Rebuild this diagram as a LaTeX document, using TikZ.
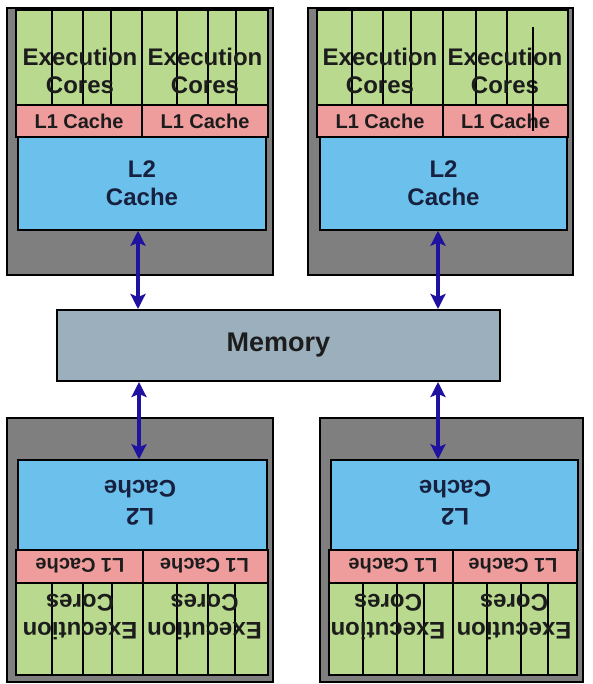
\documentclass[tikz,border=0pt]{standalone}
\usepackage{fontspec}
\setmainfont{Liberation Sans}
\definecolor{Chipcol}{HTML}{7F7F7F}
\definecolor{Corecol}{HTML}{B9D98E}
\definecolor{Lonecol}{HTML}{EE9C9C}
\definecolor{Ltwocol}{HTML}{6CC0EC}
\definecolor{Memcol}{HTML}{9BAFBD}
\definecolor{Arrcol}{HTML}{1F12A0}
\definecolor{Textcol}{HTML}{1C1C1C}
\definecolor{Ltwotext}{HTML}{17213F}
\usetikzlibrary{arrows.meta, positioning}
\tikzset{
    >={Stealth[length=15pt, width=15pt, inset=3pt]},
    font=\bfseries,
    chipbox/.style={draw=black, line width=1.5pt, fill=Chipcol, inner sep=0pt},
    corebox/.style={draw=black, line width=2.5pt, fill=Corecol, minimum width=126pt, minimum height=95pt, inner sep=0pt},
    lonebox/.style={draw=black, line width=2pt, fill=Lonecol, minimum width=126pt, minimum height=32pt, inner sep=0pt, text=Textcol, font=\fontsize{20}{24}\selectfont\bfseries},
    ltwobox/.style={draw=black, line width=1.5pt, fill=Ltwocol, inner sep=0pt, align=center, text=Ltwotext, font=\fontsize{24}{28}\selectfont\bfseries},
    coretext/.style={align=center, text=Textcol, inner sep=0pt, font=\fontsize{24}{28}\selectfont\bfseries},
    membox/.style={draw=black, line width=2pt, fill=Memcol, text=Textcol, font=\fontsize{27}{32}\selectfont\bfseries},
    coreline/.style={black, line width=1.2pt},
    memlink/.style={<->, Arrcol, line width=3.5pt}
}

\begin{document}
\begin{tikzpicture}[x=1pt, y=-1pt]
    \useasboundingbox (0,0) rectangle (593,684);

    % Top left chip
    \node[chipbox, minimum width=266pt, minimum height=267pt] (tl) at (140, 141.5) {};
    \node[ltwobox, minimum width=248pt, minimum height=93pt] (tl-l2) at (142, 183.5) {L2\\Cache};
    \node[corebox] (tl-core1) at (79, 57.5) {};
    \node[corebox] (tl-core2) at (205, 57.5) {};
    \draw[coreline] (52,10) -- (52,105) (83,10) -- (83,105) (111,10) -- (111,105);
    \draw[coreline] (177,10) -- (177,105) (208,10) -- (208,105) (236,10) -- (236,105);
    \node[coretext] (tl-ex1) at (80, 71) {Execution\\Cores};
    \node[coretext] (tl-ex2) at (205, 71) {Execution\\Cores};
    \node[lonebox] (tl-l1a) at (79, 121) {L1 Cache};
    \node[lonebox] (tl-l1b) at (205, 121) {L1 Cache};

    % Top right chip
    \node[chipbox, minimum width=265pt, minimum height=267pt] (tr) at (440.5, 141.5) {};
    \node[ltwobox, minimum width=247pt, minimum height=93pt] (tr-l2) at (443.5, 183.5) {L2\\Cache};
    \node[corebox] (tr-core1) at (380, 57.5) {};
    \node[corebox, minimum width=125pt] (tr-core2) at (505.5, 57.5) {};
    \draw[coreline] (352,10) -- (352,105) (383,10) -- (383,105) (411,10) -- (411,105);
    \draw[coreline] (476,10) -- (476,105) (507,10) -- (507,105);
    \node[coretext] (tr-ex1) at (380, 71) {Execution\\Cores};
    \node[coretext] (tr-ex2) at (505, 71) {Execution\\Cores};
    \node[lonebox] (tr-l1a) at (380, 121) {L1 Cache};
    \node[lonebox, minimum width=125pt] (tr-l1b) at (505.5, 121) {L1 Cache};
    \draw[coreline] (533,27) -- (533,131);

    % Memory
    \node[membox, minimum width=443pt, minimum height=71pt] (mem) at (278.5, 345.5) {Memory};

    % Bottom left chip (upside down)
    \node[chipbox, minimum width=266pt, minimum height=264pt] (bl) at (140, 550) {};
    \node[ltwobox, minimum width=249pt, minimum height=90pt, rotate=180] (bl-l2) at (142.5, 505) {};
    \node[ltwobox, draw=none, fill=none, rotate=180] (bl-l2t) at (140, 503) {L2\\Cache};
    \node[corebox, minimum width=127pt, minimum height=92pt] (bl-core1) at (79.5, 629) {};
    \node[corebox, minimum width=125pt, minimum height=92pt] (bl-core2) at (205.5, 629) {};
    \draw[coreline] (52,583) -- (52,675) (83,583) -- (83,675) (112,583) -- (112,675);
    \draw[coreline] (177,583) -- (177,675) (208,583) -- (208,675) (235,583) -- (235,675);
    \node[coretext, rotate=180] (bl-ex1) at (80, 617) {Execution\\Cores};
    \node[coretext, rotate=180] (bl-ex2) at (204.5, 617) {Execution\\Cores};
    \node[lonebox, minimum width=127pt, minimum height=33pt] (bl-l1a) at (79.5, 566.5) {};
    \node[lonebox, minimum width=125pt, minimum height=33pt] (bl-l1b) at (205.5, 566.5) {};
    \node[lonebox, draw=none, fill=none, rotate=180] (bl-l1at) at (80, 566) {L1 Cache};
    \node[lonebox, draw=none, fill=none, rotate=180] (bl-l1bt) at (204.5, 566) {L1 Cache};

    % Bottom right chip (upside down)
    \node[chipbox, minimum width=263pt, minimum height=264pt] (br) at (451.5, 550) {};
    \node[ltwobox, minimum width=247pt, minimum height=90pt] (br-l2) at (454.5, 505) {};
    \node[ltwobox, draw=none, fill=none, rotate=180] (br-l2t) at (455, 503) {L2\\Cache};
    \node[corebox, minimum width=124pt, minimum height=92pt] (br-core1) at (391, 629) {};
    \node[corebox, minimum width=124pt, minimum height=92pt] (br-core2) at (515, 629) {};
    \draw[coreline] (363,583) -- (363,675) (397,583) -- (397,675) (424,583) -- (424,675);
    \draw[coreline] (487,583) -- (487,675) (521,583) -- (521,675) (548,583) -- (548,675);
    \node[coretext, rotate=180] (br-ex1) at (388, 617) {Execution\\Cores};
    \node[coretext, rotate=180] (br-ex2) at (514, 617) {Execution\\Cores};
    \node[lonebox, minimum width=124pt, minimum height=33pt] (br-l1a) at (391, 566.5) {};
    \node[lonebox, minimum width=124pt, minimum height=33pt] (br-l1b) at (515, 566.5) {};
    \node[lonebox, draw=none, fill=none, rotate=180] (br-l1at) at (393, 566) {L1 Cache};
    \node[lonebox, draw=none, fill=none, rotate=180] (br-l1bt) at (513, 566) {L1 Cache};

    % Links between L2 caches and memory
    \draw[memlink] ([xshift=-4pt]tl-l2.south) -- ([xshift=-4pt]tl-l2.south |- mem.north);
    \draw[memlink] ([xshift=-5.5pt]tr-l2.south) -- ([xshift=-5.5pt]tr-l2.south |- mem.north);
    \draw[memlink] ([xshift=-3.5pt]bl-l2.center |- mem.south) -- ([xshift=-3.5pt]bl-l2.center |- bl-l2.south);
    \draw[memlink] ([xshift=-16.5pt]br-l2.north |- mem.south) -- ([xshift=-16.5pt]br-l2.north);
\end{tikzpicture}
\end{document}
